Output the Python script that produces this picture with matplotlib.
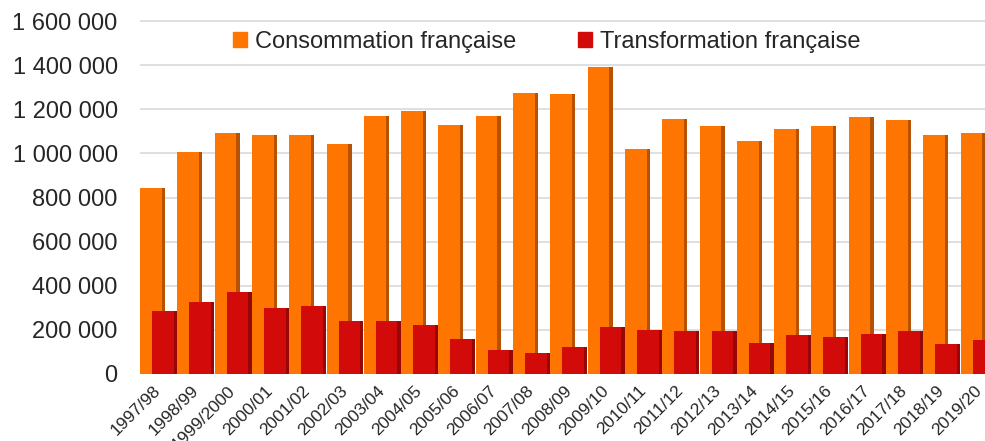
import matplotlib.pyplot as plt
import numpy as np

plt.rcParams['font.family'] = ['Liberation Sans', 'DejaVu Sans']

campagnes = ["1997/98", "1998/99", "1999/2000", "2000/01", "2001/02", "2002/03",
             "2003/04", "2004/05", "2005/06", "2006/07", "2007/08", "2008/09",
             "2009/10", "2010/11", "2011/12", "2012/13", "2013/14", "2014/15",
             "2015/16", "2016/17", "2017/18", "2018/19", "2019/20"]
consommation = [845000, 1008000, 1094000, 1085000, 1085000, 1041000, 1170000,
                1191000, 1129000, 1170000, 1276000, 1270000, 1394000, 1020000,
                1155000, 1123000, 1057000, 1110000, 1123000, 1167000, 1152000,
                1082000, 1094000]
transformation = [284000, 328000, 370000, 298000, 308000, 240000, 240000,
                  221000, 157000, 110000, 97000, 124000, 215000, 198000,
                  193000, 193000, 139000, 177000, 169000, 183000, 195000,
                  137000, 154000]
yticks = [0, 200000, 400000, 600000, 800000, 1000000, 1200000, 1400000, 1600000]

ORANGE = "#ff7502"
ORANGE_DARK = "#8a3c05"
RED = "#d20a0a"
RED_DARK = "#6e0505"
TXT = "#262626"

x = np.arange(len(campagnes))
w = 0.67
off = 0.16

fig = plt.figure(figsize=(9.85, 4.41), dpi=100)
ax = fig.add_axes([0.142, 0.152, 0.871, 0.8025])

# orange bars with a darker shaded right edge
ax.bar(x - off, consommation, w, color=ORANGE, zorder=2)
ax.bar(x - off + w / 2 - 0.045, consommation, 0.09, color=ORANGE_DARK, alpha=0.6, zorder=2)
# red bars in front
ax.bar(x + off, transformation, w, color=RED, zorder=3)
ax.bar(x + off + w / 2 - 0.045, transformation, 0.09, color=RED_DARK, alpha=0.6, zorder=3)

ax.set_xlim(-0.5, 22.5)
ax.set_ylim(0, 1605000)
ax.set_yticks(yticks)
ax.set_yticklabels([f"{v:,}".replace(",", " ") for v in yticks], fontsize=17, color=TXT)
ax.yaxis.grid(True, color="#d9d9d9", linewidth=1.2, zorder=0)
ax.set_axisbelow(True)
ax.tick_params(axis="y", length=0, pad=16)

ax.set_xticks(x)
ax.set_xticklabels(campagnes, rotation=45, ha="right", va="center",
                   rotation_mode="anchor", fontsize=12.5, color=TXT)
ax.tick_params(axis="x", length=0, pad=10.5)

for s in ax.spines.values():
    s.set_visible(False)

h1 = plt.Rectangle((0, 0), 1, 1, color=ORANGE)
h2 = plt.Rectangle((0, 0), 1, 1, color=RED)
fig.legend([h1, h2], ["Consommation française", "Transformation française"],
           loc="center", bbox_to_anchor=(547 / 985, 1 - 42 / 441), ncol=2,
           frameon=False, fontsize=17, handlelength=0.6, handleheight=0.6,
           handletextpad=0.35, columnspacing=2.6, labelcolor=TXT)

fig.savefig("out.png", dpi=100)
